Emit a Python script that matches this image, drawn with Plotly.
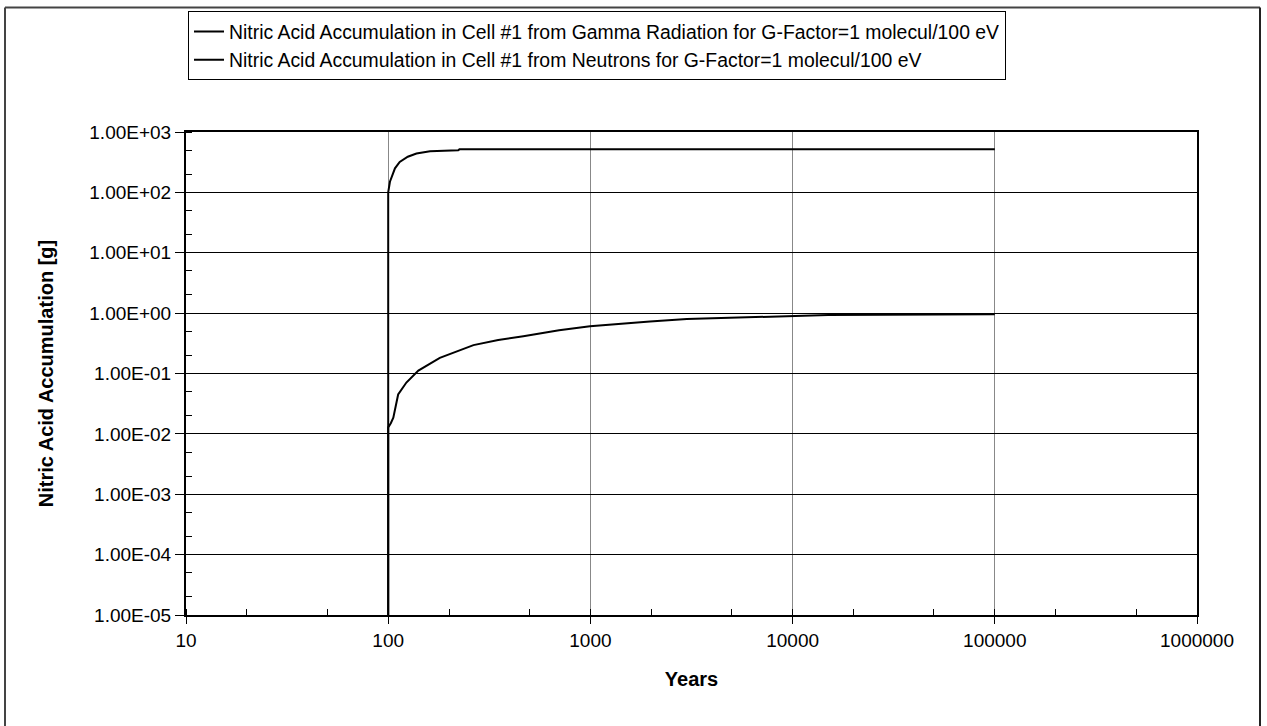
import plotly.graph_objects as go

# Data
gamma_years = [100, 100, 100, 102, 104, 108, 114, 125, 138, 161, 222, 225, 300, 1000, 10000, 100000]
gamma_acc = [1e-6, 1e-2, 100, 150, 181, 250, 320, 390, 439, 480, 499, 516, 518, 518, 518, 518]

neutron_years = [100, 100, 103, 106, 112, 123, 141, 180, 264, 350, 466, 700, 995, 1500, 1970, 3000, 5000, 10000, 15000, 100000]
neutron_acc = [1e-6, 0.0128, 0.015, 0.0186, 0.045, 0.0708, 0.112, 0.182, 0.295, 0.36, 0.414, 0.52, 0.605, 0.68, 0.73, 0.80, 0.84, 0.88, 0.93, 0.96]

ytick_vals = [1e-5, 1e-4, 1e-3, 1e-2, 1e-1, 1e0, 1e1, 1e2, 1e3]
ytick_text = ["1.00E-05", "1.00E-04", "1.00E-03", "1.00E-02", "1.00E-01",
              "1.00E+00", "1.00E+01", "1.00E+02", "1.00E+03"]
xtick_vals = [10, 100, 1000, 10000, 100000, 1000000]
xtick_text = ["10", "100", "1000", "10000", "100000", "1000000"]

names = [
    "Nitric Acid Accumulation in Cell #1 from Gamma Radiation for G-Factor=1 molecul/100 eV",
    "Nitric Acid Accumulation in Cell #1 from Neutrons for G-Factor=1 molecul/100 eV",
]

fig = go.Figure()
fig.add_trace(go.Scatter(x=gamma_years, y=gamma_acc, mode="lines", name=names[0],
                         line=dict(color="black", width=2)))
fig.add_trace(go.Scatter(x=neutron_years, y=neutron_acc, mode="lines", name=names[1],
                         line=dict(color="black", width=2)))

W, H = 1267, 726
L, R, T, B = 186, 1197, 130, 615
pw, ph = R - L, B - T

def px(x):
    return (x - L) / pw

def py(y):
    return (B - y) / ph

font = "Liberation Sans, Arial, sans-serif"

fig.update_layout(
    width=W, height=H,
    margin=dict(l=L, r=W - R, t=T, b=H - B),
    paper_bgcolor="white", plot_bgcolor="white",
    font=dict(family=font, size=19, color="black"),
    showlegend=True,
    legend=dict(x=px(188), y=py(9), xanchor="left", yanchor="top",
                bordercolor="black", borderwidth=1, bgcolor="white",
                font=dict(size=19.4), tracegroupgap=0, itemwidth=30),
    xaxis=dict(type="log", range=[1, 6], tickvals=xtick_vals, ticktext=xtick_text,
               showgrid=True, gridcolor="#888888", gridwidth=1,
               showline=True, linecolor="black", linewidth=2, mirror=True,
               ticks="outside", ticklen=7, tickcolor="black",
               minor=dict(ticks="inside", ticklen=6, tickcolor="black", showgrid=False),
               title=dict(text="<b>Years</b>", font=dict(size=20), standoff=22),
               tickfont=dict(size=19), zeroline=False),
    yaxis=dict(type="log", range=[-5, 3], tickvals=ytick_vals, ticktext=ytick_text,
               showgrid=True, gridcolor="black", gridwidth=1,
               showline=True, linecolor="black", linewidth=2, mirror=True,
               ticks="outside", ticklen=9, tickcolor="black",
               minor=dict(ticks="inside", ticklen=6, tickcolor="black", showgrid=False),
               title=dict(text="<b>Nitric Acid Accumulation [g]</b>", font=dict(size=20), standoff=30),
               tickfont=dict(size=19), zeroline=False),
    shapes=[
        dict(type="line", xref="paper", yref="paper", x0=px(5), x1=px(5), y0=py(5), y1=py(730),
             line=dict(color="#444444", width=2)),
        dict(type="line", xref="paper", yref="paper", x0=px(5), x1=px(1260), y0=py(5), y1=py(5),
             line=dict(color="#444444", width=2)),
        dict(type="line", xref="paper", yref="paper", x0=px(1260), x1=px(1260), y0=py(5), y1=py(730),
             line=dict(color="#222222", width=2)),
    ],
)

fig.write_html("out.html", config={"displayModeBar": False},
               post_script="document.body.style.margin='0';document.body.style.overflow='hidden';")
